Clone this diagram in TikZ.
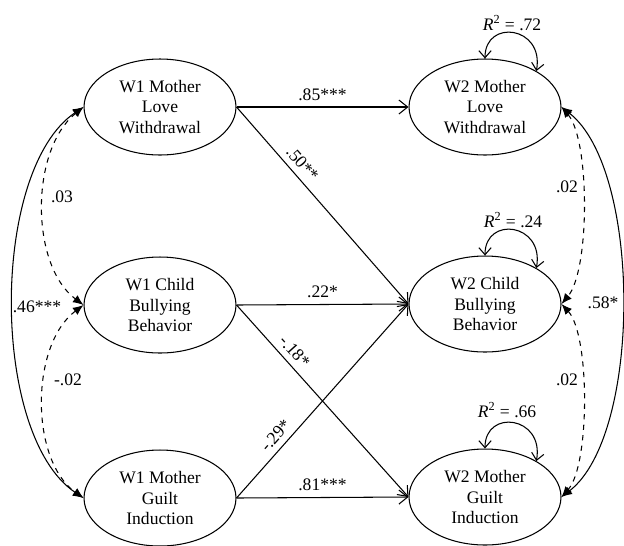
\documentclass[tikz,border=0pt]{standalone}
\usepackage{fontspec}
\setmainfont{Liberation Serif}
\usetikzlibrary{shapes.geometric,arrows.meta}

\begin{document}
\begin{tikzpicture}[x=0.02cm, y=0.02cm, line width=0.6pt,
    font=\fontsize{10}{11.6}\selectfont,
    latent/.style={draw, ellipse, align=center, inner sep=0pt,
      minimum width=3.04cm, minimum height=1.92cm},
    effect/.style={-{Straight Barb[length=5pt,width=8pt]}},
    cov/.style={{Latex[length=6pt,width=5pt]}-{Latex[length=6pt,width=5pt]}},
    resid/.style={{Straight Barb[length=4pt,width=7pt]}-{Straight Barb[length=4pt,width=7pt]}}]
  \useasboundingbox (0,0) rectangle (624,-545);

  \node[latent] (m1) at (160,-107) {W1 Mother\\Love\\Withdrawal};
  \node[latent] (c1) at (160,-305) {W1 Child\\Bullying\\Behavior};
  \node[latent] (g1) at (160,-498) {W1 Mother\\Guilt\\Induction};

  \node[latent] (m2) at (485,-107) {W2 Mother\\Love\\Withdrawal};
  \node[latent] (c2) at (485,-304) {W2 Child\\Bullying\\Behavior};
  \node[latent] (g2) at (485,-497) {W2 Mother\\Guilt\\Induction};

  % paths W1 -> W2
  \draw[effect] (m1.east) -- node[above] (l85) {.85***} (m2.west);
  \draw[effect] (m1.east) -- node[pos=.33, sloped, above] (l50) {.50**} (c2.west);
  \draw[effect] (c1.east) -- node[above] (l22) {.22*} (c2.west);
  \draw[effect] (c1.east) -- node[pos=.285, sloped, above] (l18) {-.18*} (g2.west);
  \draw[effect] (g1.east) -- node[pos=.28, sloped, above] (l29) {-.29*} (c2.west);
  \draw[effect] (g1.east) -- node[above] (l81) {.81***} (g2.west);

  % covariances W1
  \draw[cov] (m1.west) .. controls (-10,-170) and (-10,-435) .. (g1.west);
  \draw[cov, dashed] (m1.west) .. controls (30,-150) and (30,-265) .. (c1.west);
  \draw[cov, dashed] (c1.west) .. controls (30,-345) and (30,-460) .. (g1.west);
  \node (l46) at (37,-307) {.46***};
  \node (l03) at (62,-197) {.03};
  \node (l02a) at (68,-380) {-.02};

  % covariances W2
  \draw[cov] (m2.east) .. controls (642,-170) and (642,-435) .. (g2.east);
  \draw[cov, dashed] (m2.east) .. controls (590,-140) and (590,-270) .. (c2.east);
  \draw[cov, dashed] (c2.east) .. controls (590,-335) and (590,-465) .. (g2.east);
  \node (l58) at (603,-303) {.58*};
  \node (l02b) at (567,-187) {.02};
  \node (l02c) at (567,-380) {.02};

  % residuals
  \draw[resid] (m2.north) .. controls +(0,40) and +(8,45) .. (m2.35);
  \draw[resid] (c2.north) .. controls +(0,40) and +(8,45) .. (c2.35);
  \draw[resid] (g2.north) .. controls +(0,40) and +(8,45) .. (g2.35);
  \node (r1) at (512,-23) {\textit{R}\textsuperscript{2} = .72};
  \node (r2) at (513,-220) {\textit{R}\textsuperscript{2} = .24};
  \node (r3) at (507,-410) {\textit{R}\textsuperscript{2} = .66};
\end{tikzpicture}
\end{document}
